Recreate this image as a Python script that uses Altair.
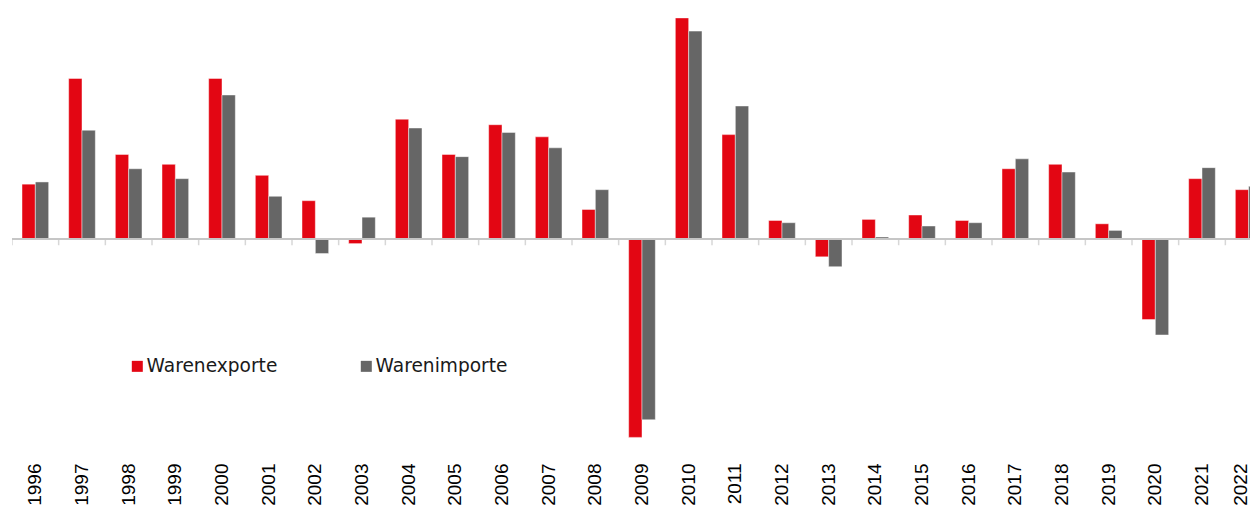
import altair as alt
import pandas as pd

years = [str(y) for y in range(1996, 2023)]
exports = [5.0, 14.6, 7.7, 6.8, 14.6, 5.8, 3.5, -0.4, 10.9, 7.7, 10.4, 9.3, 2.7,
           -18.0, 20.1, 9.5, 1.7, -1.6, 1.8, 2.2, 1.7, 6.4, 6.8, 1.4, -7.3, 5.5, 4.5]
imports = [5.2, 9.9, 6.4, 5.5, 13.1, 3.9, -1.3, 2.0, 10.1, 7.5, 9.7, 8.3, 4.5,
           -16.4, 18.9, 12.1, 1.5, -2.5, 0.2, 1.2, 1.5, 7.3, 6.1, 0.8, -8.7, 6.5, 4.8]
series = ["Warenexporte", "Warenimporte"]
colors = ["#E30613", "#666666"]

df = pd.DataFrame({"Jahr": years, series[0]: exports, series[1]: imports})
long = df.melt(id_vars="Jahr", var_name="Reihe", value_name="Wert")
yr = pd.DataFrame({"Jahr": years})

x_scale = alt.Scale(domain=years, range=[0, 1260], paddingInner=0, paddingOuter=0)
y_scale = alt.Scale(domain=[-19.6, 21.0], nice=False, zero=False)

last_label = {"condition": {"test": "datum.value == '2022'", "value": -8}, "value": 0}

bars = alt.Chart(long).mark_bar(clip=True, strokeWidth=1, stroke="white", strokeOpacity=0.45).encode(
    x=alt.X("Jahr:N", scale=x_scale, sort=years,
            axis=alt.Axis(title=None, labelAngle=-90, labelFont="Liberation Sans",
                          labelFontSize=19, labelColor="#000000", labelPadding=8,
                          labelOffset=last_label,
                          domain=False, ticks=False, grid=False)),
    xOffset=alt.XOffset("Reihe:N", sort=series,
                        scale=alt.Scale(paddingInner=0, paddingOuter=0.75)),
    y=alt.Y("Wert:Q", scale=y_scale, axis=None),
    color=alt.Color("Reihe:N", sort=series,
                    scale=alt.Scale(domain=series, range=colors),
                    legend=alt.Legend(title=None, orient="none", legendX=116, legendY=349,
                                      direction="horizontal", columns=2, columnPadding=79,
                                      symbolType="square", symbolSize=121, symbolStrokeWidth=0,
                                      labelFont="DejaVu Sans", labelFontSize=18.6,
                                      labelColor="#1a1a1a", labelOffset=0, padding=0)),
)

zero = alt.Chart(yr).mark_rule(color="#c6c6c6", strokeWidth=1.5).encode(
    y=alt.datum(0)
)

ticks = alt.Chart(yr).mark_tick(orient="vertical", color="#c6c6c6", size=6,
                                thickness=1.5, yOffset=3, clip=True).encode(
    x=alt.X("Jahr:N", sort=years, bandPosition=0),
    y=alt.datum(0),
)

chart = alt.layer(bars, zero, ticks).properties(
    width=1238, height=447,
    autosize=alt.AutoSizeParams(type="none"),
    padding={"left": 4, "top": 0, "right": 0, "bottom": 51},
).configure_view(stroke=None)

chart.save("out.html", embed_options={"renderer": "svg", "actions": False})
